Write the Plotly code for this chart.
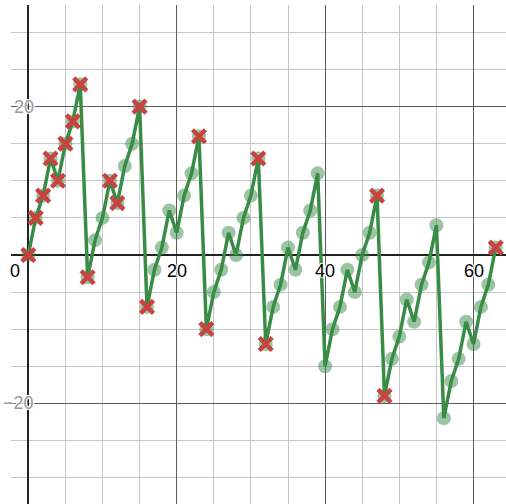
import plotly.graph_objects as go

# sequence values
steps = [0, 1, 2, 3, 4, 5, 6, 7, 8, 9, 10, 11, 12, 13, 14, 15,
         16, 17, 18, 19, 20, 21, 22, 23, 24, 25, 26, 27, 28, 29, 30, 31,
         32, 33, 34, 35, 36, 37, 38, 39, 40, 41, 42, 43, 44, 45, 46, 47,
         48, 49, 50, 51, 52, 53, 54, 55, 56, 57, 58, 59, 60, 61, 62, 63]
values = [0, 5, 8, 13, 10, 15, 18, 23,
          -3, 2, 5, 10, 7, 12, 15, 20,
          -7, -2, 1, 6, 3, 8, 11, 16,
          -10, -5, -2, 3, 0, 5, 8, 13,
          -12, -7, -4, 1, -2, 3, 6, 11,
          -15, -10, -7, -2, -5, 0, 3, 8,
          -19, -14, -11, -6, -9, -4, -1, 4,
          -22, -17, -14, -9, -12, -7, -4, 1]
# steps marked with a red cross
marked = [0, 1, 2, 3, 4, 5, 6, 7, 8, 11, 12, 15, 16, 23, 24, 31, 32, 47, 48, 63]

x_tick_vals = [0, 20, 40, 60]
x_tick_text = ["0", "20", "40", "60"]
y_tick_vals = [20, -20]
y_tick_text = ["20", "\u221220"]

GREEN = "#388c46"
RED = "#c74440"
halo = "white 1px 1px 1px, white -1px -1px 1px, white 1px -1px 1px, white -1px 1px 1px"

fig = go.Figure()

# connecting line
fig.add_trace(go.Scatter(x=steps, y=values, mode="lines",
                         line=dict(color=GREEN, width=3.5),
                         hoverinfo="skip", showlegend=False))

# translucent dots on every point
fig.add_trace(go.Scatter(x=steps, y=values, mode="markers",
                         marker=dict(color=GREEN, size=14, opacity=0.5, line=dict(width=0)),
                         showlegend=False))

# red crosses
mx = [steps[i] for i in marked]
my = [values[i] for i in marked]
fig.add_trace(go.Scatter(x=mx, y=my, mode="markers",
                         marker=dict(symbol="x-thin", size=13, line=dict(color=RED, width=4.5)),
                         showlegend=False))

ann = []
for v, t in zip(x_tick_vals, x_tick_text):
    ann.append(dict(x=v, y=0, xref="x", yref="y", text=t, showarrow=False,
                    xanchor="center", yanchor="middle",
                    xshift=-13 if v == 0 else 0, yshift=-16,
                    font=dict(family="Liberation Sans, Arial", size=18, color="black", shadow=halo)))
for v, t in zip(y_tick_vals, y_tick_text):
    ann.append(dict(x=0, y=v, xref="x", yref="y", text=t, showarrow=False,
                    xanchor="right", yanchor="middle", xshift=8,
                    font=dict(family="Liberation Sans, Arial", size=18, color="#999999", shadow=halo)))

axis_style = dict(
    showgrid=True, gridcolor="#5a5a5a", gridwidth=1,
    tick0=0, dtick=20,
    minor=dict(dtick=5, showgrid=True, gridcolor="#c6c6c6", gridwidth=1.3),
    showticklabels=False, ticks="",
    zeroline=True, zerolinecolor="#222222", zerolinewidth=2.4,
    showline=False, fixedrange=True,
)

fig.update_layout(
    width=506, height=504,
    margin=dict(l=11, r=0, t=5, b=0),
    paper_bgcolor="white", plot_bgcolor="white",
    xaxis=dict(range=[-2.33, 64.38], **axis_style),
    yaxis=dict(range=[-33.56, 33.69], **axis_style),
    annotations=ann,
    showlegend=False,
)

# drop the page's default body margin so the figure sits at the window corner
fig.write_html("out.html", config={"displayModeBar": False},
               post_script="document.body.style.margin='0';")
